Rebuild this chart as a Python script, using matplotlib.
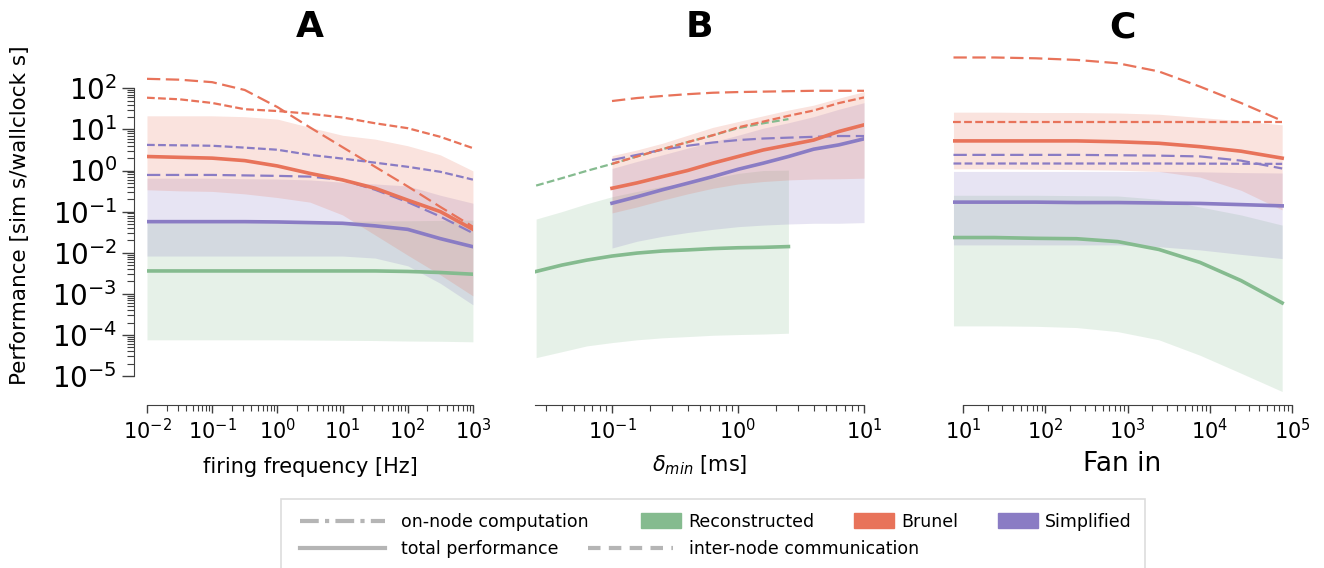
import numpy as np
import matplotlib
matplotlib.use("Agg")
import matplotlib.pyplot as plt
from matplotlib.lines import Line2D
from matplotlib.patches import Patch, Rectangle
from matplotlib.ticker import FixedLocator, NullFormatter

GREEN = "#85bb8f"
ORANGE = "#e8735a"
PURPLE = "#8a7cc4"

# ---- panel A: firing frequency ----
freq = [0.01, 0.0316, 0.1, 0.316, 1, 3.16, 10, 31.6, 100, 316, 1000]

a_orange_total = [2.19, 2.09, 2.0, 1.74, 1.29, 0.85, 0.59, 0.37, 0.19, 0.10, 0.037]
a_orange_lo = [0.34, 0.32, 0.31, 0.27, 0.22, 0.17, 0.083, 0.027, 0.0087, 0.0029, 0.00089]
a_orange_hi = [21.4, 21.4, 21.4, 20.4, 17.8, 11.2, 7.2, 5.8, 4.0, 2.4, 0.98]
a_orange_comm = [59, 54, 44, 31, 28, 24, 19.5, 14.1, 10.7, 6.6, 3.5]
a_orange_comp = [170, 162, 141, 91, 35, 11.2, 3.7, 1.23, 0.41, 0.13, 0.043]

a_purple_total = [0.057, 0.057, 0.057, 0.057, 0.056, 0.054, 0.052, 0.045, 0.037, 0.022, 0.014]
a_purple_lo = [0.0083, 0.0083, 0.0083, 0.0083, 0.0083, 0.0083, 0.0083, 0.0074, 0.0048, 0.0018, 0.00054]
a_purple_hi = [0.65, 0.65, 0.65, 0.63, 0.62, 0.59, 0.52, 0.47, 0.42, 0.25, 0.16]
a_purple_comm = [4.2, 4.1, 4.0, 3.6, 3.2, 2.4, 1.95, 1.55, 1.23, 0.93, 0.6]
a_purple_comp = [0.78, 0.78, 0.78, 0.76, 0.74, 0.71, 0.59, 0.34, 0.17, 0.076, 0.030]

a_green_total = [0.0036, 0.0036, 0.0036, 0.0036, 0.0036, 0.0036, 0.0036, 0.0036, 0.0035, 0.0033, 0.0030]
a_green_lo = [7.6e-5, 7.6e-5, 7.6e-5, 7.6e-5, 7.6e-5, 7.5e-5, 7.4e-5, 7.3e-5, 7.1e-5, 7.0e-5, 6.8e-5]
a_green_hi = [0.056, 0.056, 0.056, 0.056, 0.057, 0.057, 0.058, 0.059, 0.060, 0.061, 0.062]

# ---- panel B: minimal delay ----
delay = [0.025, 0.04, 0.063, 0.1, 0.158, 0.251, 0.398, 0.631, 1.0, 1.585, 2.512, 3.98, 6.31, 10]

b_green_total = [0.0035, 0.0050, 0.0066, 0.0083, 0.0098, 0.011, 0.0117, 0.0126, 0.0132, 0.0135, 0.0141]
b_green_lo = [2.8e-5, 3.9e-5, 5.4e-5, 6.5e-5, 7.6e-5, 8.5e-5, 9.1e-5, 9.8e-5, 1.02e-4, 1.05e-4, 1.1e-4]
b_green_hi = [0.066, 0.10, 0.155, 0.23, 0.31, 0.41, 0.50, 0.65, 0.85, 1.0, 1.02]
b_green_comm = [0.43, 0.65, 0.98, 1.45, 2.2, 3.3, 4.9, 7.2, 10.7, 14.1, 17.8]

b_orange_total = [0.37, 0.50, 0.71, 1.0, 1.51, 2.19, 3.16, 4.17, 5.5, 8.9, 12.9]
b_orange_lo = [0.093, 0.13, 0.19, 0.27, 0.37, 0.47, 0.54, 0.59, 0.62, 0.63, 0.65]
b_orange_hi = [2.3, 3.16, 4.6, 7.2, 11.2, 15.5, 21.4, 29.5, 38.9, 57.5, 83]
b_orange_comm = [1.45, 2.2, 3.3, 4.9, 7.2, 11.2, 15.5, 21.4, 28.8, 43.7, 60]
b_orange_comp = [49, 58, 65, 72, 78, 81, 83, 85, 87, 87, 87]

b_purple_total = [0.16, 0.23, 0.34, 0.49, 0.71, 1.07, 1.51, 2.19, 3.3, 4.2, 5.9]
b_purple_lo = [0.013, 0.019, 0.025, 0.031, 0.037, 0.043, 0.047, 0.050, 0.052, 0.052, 0.054]
b_purple_hi = [1.12, 1.66, 2.4, 3.5, 5.0, 7.2, 10.7, 14.5, 20.4, 30.9, 44.7]
b_purple_comp = [1.8, 2.4, 3.2, 4.0, 4.8, 5.5, 6.0, 6.3, 6.6, 6.9, 6.9]

# ---- panel C: fan in ----
fanin = [7.6, 24, 76, 240, 760, 2400, 7600, 24000, 76000]

c_orange_total = [5.25, 5.25, 5.25, 5.25, 5.0, 4.6, 3.8, 2.95, 2.0]
c_orange_lo = [1.1, 1.1, 1.07, 1.05, 1.02, 0.95, 0.69, 0.33, 0.11]
c_orange_hi = [26.3, 26.3, 25.7, 25.7, 25.1, 23.4, 19.5, 16.2, 12.9]
c_orange_comm = [15.5, 15.5, 15.5, 15.5, 15.5, 15.5, 15.5, 15.5, 15.5]
c_orange_comp = [562, 562, 537, 490, 407, 257, 110, 44, 16.2]

c_purple_total = [0.17, 0.17, 0.17, 0.166, 0.166, 0.162, 0.158, 0.148, 0.138]
c_purple_lo = [0.0155, 0.0155, 0.0155, 0.0155, 0.0155, 0.014, 0.0117, 0.0091, 0.0072]
c_purple_hi = [0.95, 0.95, 0.95, 0.95, 0.95, 0.95, 0.93, 0.89, 0.87]
c_purple_comm = [1.48, 1.48, 1.48, 1.48, 1.48, 1.48, 1.47, 1.46, 1.45]
c_purple_comp = [2.4, 2.4, 2.4, 2.4, 2.35, 2.3, 2.2, 1.74, 1.12]

c_green_total = [0.0234, 0.0234, 0.0224, 0.0219, 0.0186, 0.012, 0.0058, 0.0021, 0.0006]
c_green_lo = [1.66e-4, 1.66e-4, 1.62e-4, 1.51e-4, 1.2e-4, 7.6e-5, 3.2e-5, 1.17e-5, 4.2e-6]
c_green_hi = [0.25, 0.25, 0.25, 0.245, 0.24, 0.20, 0.13, 0.083, 0.047]

SHORT = (3.5, 1.5)
LONG = (6, 2.5)


def band(ax, x, lo, hi, total, color):
    ax.fill_between(x, lo, hi, color=color, alpha=0.2, lw=0)
    ax.plot(x, total, color=color, lw=2.6, zorder=4)


def dashed(ax, x, y, color, dash):
    ax.plot(x, y, color=color, lw=1.6, dashes=dash, zorder=3)


def minor_list(lo, hi):
    out = []
    for k in range(-6, 7):
        for m in range(2, 10):
            v = m * 10.0 ** k
            if lo <= v <= hi:
                out.append(v)
    return out


def setup(ax, xlim, xbounds, majors, show_y):
    ax.set_xscale("log")
    ax.set_yscale("log")
    ax.set_xlim(*xlim)
    ax.set_ylim(4e-6, 1e3)
    ax.patch.set_visible(False)
    ax.spines["top"].set_visible(False)
    ax.spines["right"].set_visible(False)
    ax.spines["bottom"].set_position(("outward", 9))
    ax.spines["bottom"].set_bounds(*xbounds)
    ax.spines["bottom"].set_color("0.25")
    ax.xaxis.set_major_locator(FixedLocator(majors))
    ax.xaxis.set_minor_locator(FixedLocator(minor_list(*xbounds)))
    ax.xaxis.set_minor_formatter(NullFormatter())
    ax.tick_params(axis="x", which="major", length=6, width=1, labelsize=15, color="0.25")
    ax.tick_params(axis="x", which="minor", length=4, width=0.8, color="0.25")
    if show_y:
        ax.spines["left"].set_position(("outward", 9))
        ax.spines["left"].set_bounds(1e-5, 1e2)
        ax.spines["left"].set_color("0.25")
        ax.yaxis.set_major_locator(FixedLocator([10.0 ** k for k in range(-5, 3)]))
        ax.yaxis.set_minor_locator(FixedLocator(minor_list(1e-5, 1e2)))
        ax.yaxis.set_minor_formatter(NullFormatter())
        ax.tick_params(axis="y", which="major", length=9, width=1, labelsize=20, color="0.25")
        ax.tick_params(axis="y", which="minor", length=5, width=0.8, color="0.25")
    else:
        ax.spines["left"].set_visible(False)
        ax.tick_params(axis="y", which="both", left=False, labelleft=False)


fig = plt.figure(figsize=(13.24, 5.68), dpi=100)
bottom, height = 0.3092, 0.6077
ax_a = fig.add_axes([0.1110, bottom, 0.2462, height])
ax_b = fig.add_axes([0.4041, bottom, 0.2485, height])
ax_c = fig.add_axes([0.7198, bottom, 0.2560, height])

# panel A
band(ax_a, freq, a_green_lo, a_green_hi, a_green_total, GREEN)
band(ax_a, freq, a_purple_lo, a_purple_hi, a_purple_total, PURPLE)
band(ax_a, freq, a_orange_lo, a_orange_hi, a_orange_total, ORANGE)
dashed(ax_a, freq, a_orange_comm, ORANGE, SHORT)
dashed(ax_a, freq, a_orange_comp, ORANGE, LONG)
dashed(ax_a, freq, a_purple_comm, PURPLE, SHORT)
dashed(ax_a, freq, a_purple_comp, PURPLE, LONG)

# panel B
g = len(b_green_total)
band(ax_b, delay[:g], b_green_lo, b_green_hi, b_green_total, GREEN)
dashed(ax_b, delay[:g], b_green_comm, GREEN, SHORT)
band(ax_b, delay[3:], b_purple_lo, b_purple_hi, b_purple_total, PURPLE)
band(ax_b, delay[3:], b_orange_lo, b_orange_hi, b_orange_total, ORANGE)
dashed(ax_b, delay[3:], b_purple_comp, PURPLE, LONG)
dashed(ax_b, delay[3:], b_orange_comm, ORANGE, SHORT)
dashed(ax_b, delay[3:], b_orange_comp, ORANGE, LONG)

# panel C
band(ax_c, fanin, c_green_lo, c_green_hi, c_green_total, GREEN)
band(ax_c, fanin, c_purple_lo, c_purple_hi, c_purple_total, PURPLE)
band(ax_c, fanin, c_orange_lo, c_orange_hi, c_orange_total, ORANGE)
dashed(ax_c, fanin, c_orange_comm, ORANGE, SHORT)
dashed(ax_c, fanin, c_orange_comp, ORANGE, LONG)
dashed(ax_c, fanin, c_purple_comm, PURPLE, SHORT)
dashed(ax_c, fanin, c_purple_comp, PURPLE, LONG)

setup(ax_a, (0.01, 1000), (0.01, 1000), [1e-2, 1e-1, 1, 1e1, 1e2, 1e3], True)
setup(ax_b, (0.0245, 10), (0.0245, 10), [1e-1, 1, 1e1], False)
setup(ax_c, (7.5, 1e5), (10, 1e5), [1e1, 1e2, 1e3, 1e4, 1e5], False)

ax_a.set_ylabel("Performance [sim s/wallclock s]", fontsize=15.5)
ax_a.yaxis.set_label_coords(-0.359, 0.514)
ax_a.set_xlabel("firing frequency [Hz]", fontsize=15, labelpad=10)
ax_b.set_xlabel(r"$\delta_{min}$ [ms]", fontsize=15, labelpad=7)
ax_c.set_xlabel("Fan in", fontsize=19, labelpad=5.5)

for ax, letter in zip([ax_a, ax_b, ax_c], "ABC"):
    ax.set_title(letter, fontsize=26, fontweight="bold", pad=7)

# legend: line styles
style_handles = [
    Line2D([], [], color="#b5b5b5", lw=3, dashes=(4.5, 1.5, 1, 1.5)),
    Line2D([], [], color="#b5b5b5", lw=3),
    Line2D([], [], color="none", lw=0),
    Line2D([], [], color="#b5b5b5", lw=3, dashes=(3, 2)),
]
style_labels = ["on-node computation", "total performance", "", "inter-node communication"]
fig.legend(style_handles, style_labels, ncol=2, loc="upper left",
           bbox_to_anchor=(0.2266, 0.0975), frameon=False, fontsize=12.5,
           handlelength=4.9, handletextpad=0.9, columnspacing=0.0,
           borderpad=0, borderaxespad=0, labelspacing=0.55)

# legend: model colours
color_handles = [Patch(color=GREEN), Patch(color=ORANGE), Patch(color=PURPLE)]
fig.legend(color_handles, ["Reconstructed", "Brunel", "Simplified"], ncol=3,
           loc="upper left", bbox_to_anchor=(0.4841, 0.0975), frameon=False,
           fontsize=12.5, handlelength=2.3, handleheight=0.95, handletextpad=0.4,
           columnspacing=2.3, borderpad=0, borderaxespad=0)

fig.add_artist(Rectangle((281 / 1324, -0.05), (1145 - 281) / 1324, (568 - 499) / 568 + 0.05,
                         transform=fig.transFigure, fill=False, edgecolor="#dddddd", lw=1.2))

fig.savefig("out.png", dpi=100)
